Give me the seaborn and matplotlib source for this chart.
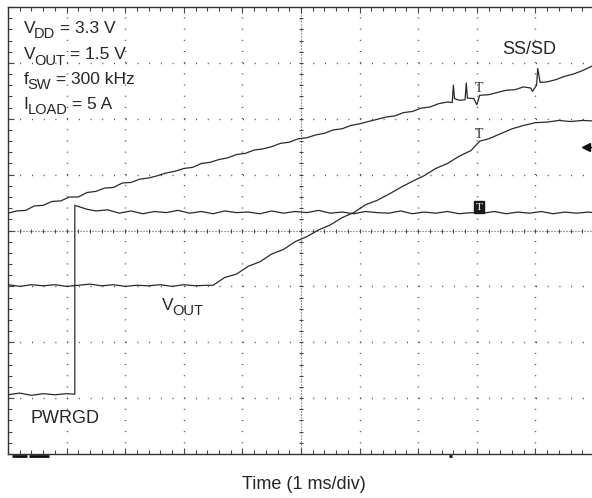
import numpy as np
import pandas as pd
import seaborn as sns
import matplotlib.pyplot as plt

# --- Scope traces (x in ms = div, y in div from bottom) ---

ss_t = [0, 0.15, 0.3, 0.45, 0.6, 0.75, 0.9, 1.05, 1.2, 1.35, 1.5, 1.65, 1.8, 1.95,
        2.1, 2.25, 2.4, 2.55, 2.7, 2.85, 3.0, 3.15, 3.3, 3.45, 3.6, 3.75, 3.9, 4.05,
        4.2, 4.35, 4.5, 4.65, 4.8, 4.95, 5.1, 5.25, 5.4, 5.55, 5.7, 5.85, 6.0, 6.15,
        6.3, 6.45, 6.6, 6.75, 6.9, 7.05, 7.2, 7.35, 7.5, 7.58, 7.6, 7.62, 7.7, 7.8,
        7.82, 7.84, 7.95, 8.0, 8.05, 8.2, 8.35, 8.5, 8.65, 8.8, 8.92, 8.95, 9.02,
        9.04, 9.08, 9.2, 9.35, 9.5, 9.65, 9.8, 10.0]
ss_v = [4.31, 4.35, 4.36, 4.44, 4.45, 4.52, 4.53, 4.60, 4.60, 4.68, 4.70, 4.76, 4.77, 4.85,
        4.86, 4.92, 4.94, 4.98, 5.03, 5.06, 5.11, 5.13, 5.20, 5.22, 5.27, 5.30, 5.36, 5.38,
        5.44, 5.46, 5.50, 5.56, 5.58, 5.64, 5.66, 5.71, 5.74, 5.80, 5.82, 5.88, 5.91, 5.95,
        5.99, 6.03, 6.05, 6.11, 6.13, 6.19, 6.21, 6.27, 6.30, 6.29, 6.60, 6.36, 6.33, 6.34,
        6.64, 6.37, 6.36, 6.25, 6.42, 6.43, 6.47, 6.51, 6.52, 6.57, 6.55, 6.49, 6.60,
        6.90, 6.65, 6.66, 6.70, 6.76, 6.80, 6.86, 6.96]

vout_t = [0, 0.2, 0.4, 0.6, 0.8, 1.0, 1.2, 1.4, 1.6, 1.8, 2.0, 2.2, 2.4, 2.6, 2.8, 3.0,
          3.2, 3.4, 3.5, 3.7, 3.9, 4.1, 4.3, 4.5, 4.7, 4.9, 5.1, 5.3, 5.5, 5.7, 5.9, 6.1,
          6.3, 6.5, 6.7, 6.9, 7.1, 7.3, 7.5, 7.7, 7.9, 8.05, 8.2, 8.4, 8.6, 8.8, 9.0, 9.2,
          9.4, 9.6, 9.8, 10.0]
vout_v = [3.03, 3.00, 3.03, 3.01, 3.03, 3.00, 3.02, 3.04, 3.01, 3.03, 3.00, 3.02, 3.01,
          3.03, 3.00, 3.03, 3.01, 3.02, 3.02, 3.16, 3.22, 3.36, 3.44, 3.58, 3.66, 3.80,
          3.89, 4.01, 4.10, 4.23, 4.32, 4.46, 4.54, 4.65, 4.77, 4.88, 4.98, 5.11, 5.20,
          5.33, 5.43, 5.60, 5.64, 5.73, 5.82, 5.88, 5.93, 5.94, 5.97, 5.95, 5.97, 5.96]

pg_t = [0, 0.2, 0.4, 0.6, 0.8, 1.0, 1.14, 1.14, 1.2, 1.35, 1.5, 1.7, 1.9, 2.1, 2.3,
        2.5, 2.7, 2.9, 3.1, 3.3, 3.5, 3.7, 3.9, 4.1, 4.3, 4.5, 4.7, 4.9, 5.1, 5.3, 5.5,
        5.7, 5.9, 6.1, 6.3, 6.5, 6.7, 6.9, 7.1, 7.3, 7.5, 7.7, 7.9, 8.1, 8.3, 8.5, 8.7,
        8.9, 9.1, 9.3, 9.5, 9.7, 9.9, 10.0]
pg_v = [1.06, 1.09, 1.05, 1.08, 1.06, 1.08, 1.07, 4.45, 4.43, 4.38, 4.35, 4.37, 4.31,
        4.35, 4.30, 4.34, 4.32, 4.36, 4.31, 4.34, 4.30, 4.35, 4.32, 4.33, 4.30, 4.35,
        4.31, 4.34, 4.32, 4.36, 4.31, 4.33, 4.30, 4.34, 4.32, 4.31, 4.35, 4.30, 4.33,
        4.31, 4.34, 4.30, 4.32, 4.31, 4.34, 4.30, 4.33, 4.31, 4.34, 4.30, 4.33, 4.31,
        4.33, 4.32]

# trigger cursor
trig_time = 8.04
trig_level = 5.49
marker_levels = {'ss': 6.55, 'vout': 5.72, 'pg': 4.42}

# label text: (main, subscript, rest)
cond_labels = [('V', 'DD', ' = 3.3 V'), ('V', 'OUT', ' = 1.5 V'),
               ('f', 'SW', ' = 300 kHz'), ('I', 'LOAD', ' = 5 A')]
cond_baselines = [7.55, 7.08, 6.64, 6.19]

n_xdiv, n_ydiv = 10, 8

# --- Style ---
sns.set_style('white')
plt.rcParams['font.family'] = ['Liberation Sans', 'DejaVu Sans']
plt.rcParams['lines.scale_dashes'] = False

trace_col = '#2a2a2a'
grid_col = '#444444'
FS, FS_SUB, SUB_DROP = 12.5, 10.5, -3.8


def sub_text(ax, x, y, main, sub, rest=''):
    """Text with a large, lowered subscript (scope-screenshot style)."""
    t1 = ax.text(x, y, main, fontsize=FS, va='bottom', ha='left')
    t2 = ax.annotate(sub, xy=(1, 0), xycoords=t1, xytext=(-1.0, SUB_DROP),
                     textcoords='offset points', fontsize=FS_SUB, va='bottom', ha='left')
    if rest:
        ax.annotate(rest, xy=(1, 0), xycoords=t2, xytext=(0, -SUB_DROP),
                    textcoords='offset points', fontsize=FS, va='bottom', ha='left')


fig = plt.figure(figsize=(5.92, 4.98), dpi=100)
ax = fig.add_axes([8 / 592, 44 / 498, 586 / 592, 447 / 498])
ax.set_xlim(0, n_xdiv)
ax.set_ylim(0, n_ydiv)

# graticule: dotted lines at every division, dots at the minor steps
for xv in range(1, n_xdiv):
    if xv == n_xdiv // 2:
        continue
    ax.axvline(xv, color=grid_col, lw=1.0, linestyle=(0, (0.72, 7.33)), zorder=1)
for yv in range(1, n_ydiv):
    if yv == n_ydiv // 2:
        continue
    ax.axhline(yv, color=grid_col, lw=1.0, linestyle=(0, (0.72, 7.72)), zorder=1)

# centre cross: fine dotted with small cross ticks
ax.axvline(n_xdiv / 2, color=grid_col, lw=0.8, linestyle=(0, (0.72, 1.44)), zorder=1)
ax.axhline(n_ydiv / 2, color=grid_col, lw=0.8, linestyle=(0, (0.72, 1.44)), zorder=1)
minor_x = np.arange(0, n_xdiv + 0.01, 0.2)
minor_y = np.arange(0, n_ydiv + 0.01, 0.2)
ax.plot(minor_x, np.full_like(minor_x, n_ydiv / 2), ls='none', marker='|',
        ms=3.5, mew=0.8, color=grid_col, zorder=1)
ax.plot(np.full_like(minor_y, n_xdiv / 2), minor_y, ls='none', marker='_',
        ms=3.5, mew=0.8, color=grid_col, zorder=1)

# frame ticks
ax.set_xticks(range(n_xdiv + 1))
ax.set_yticks(range(n_ydiv + 1))
ax.set_xticks(minor_x, minor=True)
ax.set_yticks(minor_y, minor=True)
ax.tick_params(which='both', direction='in', top=True, bottom=True, left=True,
               right=False, labelbottom=False, labelleft=False, color=grid_col)
ax.tick_params(which='major', length=4, width=0.8)
ax.tick_params(which='minor', length=3, width=0.8)
for side in ['left', 'bottom', 'top', 'right']:
    ax.spines[side].set_color('#333333')
    ax.spines[side].set_linewidth(1.0)

# --- Traces ---
traces = pd.concat([
    pd.DataFrame({'t': ss_t, 'v': ss_v, 'ch': 'SS/SD'}),
    pd.DataFrame({'t': vout_t, 'v': vout_v, 'ch': 'VOUT'}),
    pd.DataFrame({'t': pg_t, 'v': pg_v, 'ch': 'PWRGD'}),
], ignore_index=True)
sns.lineplot(data=traces, x='t', y='v', units='ch', estimator=None, sort=False,
             color=trace_col, lw=0.9, legend=False, ax=ax, zorder=3)
ax.set_xlabel('')
ax.set_ylabel('')

# trigger markers on each trace
ax.text(trig_time, marker_levels['ss'], 'T', family='Liberation Serif', fontsize=10,
        ha='center', va='center', color=trace_col, zorder=4)
ax.text(trig_time, marker_levels['vout'], 'T', family='Liberation Serif', fontsize=10,
        ha='center', va='center', color=trace_col, zorder=4)
ax.text(trig_time, marker_levels['pg'], 'T', family='Liberation Serif', fontsize=8,
        ha='center', va='center', color='white', zorder=4,
        bbox=dict(boxstyle='square,pad=0.15', fc='#1a1a1a', ec='#1a1a1a'))
ax.plot([9.87, 10.0], [trig_level, trig_level], color='#111111', lw=1.0, clip_on=False)
ax.plot([9.87], [trig_level], marker='<', ms=6, color='#111111', ls='none', clip_on=False)

# channel ground markers under the frame
for x0, x1 in [(0.07, 0.33), (0.36, 0.70), (7.52, 7.58)]:
    ax.plot([x0, x1], [-0.035, -0.035], color='#111111', lw=2, clip_on=False,
            solid_capstyle='butt')

# --- Annotations ---
for (m, s, r), yb in zip(cond_labels, cond_baselines):
    sub_text(ax, 0.27, yb - 0.07, m, s, r)
ax.text(8.43, 7.09, 'SS/SD', fontsize=13, va='bottom')
sub_text(ax, 2.63, 2.52, 'V', 'OUT')
ax.text(0.39, 0.48, 'PWRGD', fontsize=13, va='bottom')

fig.text(304 / 592, 1 - 489 / 498, 'Time (1 ms/div)', fontsize=13,
         ha='center', va='baseline')

fig.savefig('out.png', dpi=100, facecolor='white')
